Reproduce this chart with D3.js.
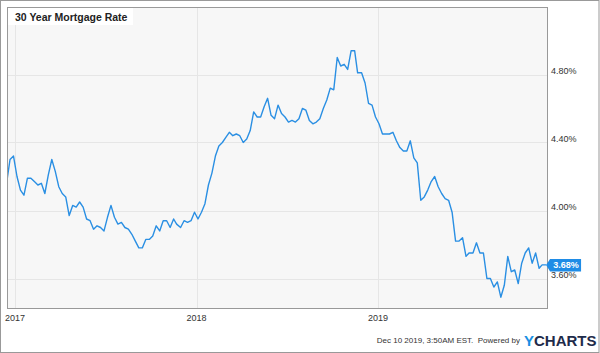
<!DOCTYPE html>
<html><head><meta charset="utf-8">
<script src="https://cdn.jsdelivr.net/npm/d3@7"></script>
<style>
html,body{margin:0;padding:0;background:#fff;}
svg{display:block;font-family:"Liberation Sans",Arial,sans-serif;}
</style></head>
<body>
<script>
const title = "30 Year Mortgage Rate";
const dates = ["2016-12-15","2016-12-22","2016-12-29","2017-01-05","2017-01-12","2017-01-19","2017-01-26","2017-02-02","2017-02-09","2017-02-16","2017-02-23","2017-03-02","2017-03-09","2017-03-16","2017-03-23","2017-03-30","2017-04-06","2017-04-13","2017-04-20","2017-04-27","2017-05-04","2017-05-11","2017-05-18","2017-05-25","2017-06-01","2017-06-08","2017-06-15","2017-06-22","2017-06-29","2017-07-06","2017-07-13","2017-07-20","2017-07-27","2017-08-03","2017-08-10","2017-08-17","2017-08-24","2017-08-31","2017-09-07","2017-09-14","2017-09-21","2017-09-28","2017-10-05","2017-10-12","2017-10-19","2017-10-26","2017-11-02","2017-11-09","2017-11-16","2017-11-22","2017-11-30","2017-12-07","2017-12-14","2017-12-21","2017-12-28","2018-01-04","2018-01-11","2018-01-18","2018-01-25","2018-02-01","2018-02-08","2018-02-15","2018-02-22","2018-03-01","2018-03-08","2018-03-15","2018-03-22","2018-03-29","2018-04-05","2018-04-12","2018-04-19","2018-04-26","2018-05-03","2018-05-10","2018-05-17","2018-05-24","2018-05-31","2018-06-07","2018-06-14","2018-06-21","2018-06-28","2018-07-05","2018-07-12","2018-07-19","2018-07-26","2018-08-02","2018-08-09","2018-08-16","2018-08-23","2018-08-30","2018-09-06","2018-09-13","2018-09-20","2018-09-27","2018-10-04","2018-10-11","2018-10-18","2018-10-25","2018-11-01","2018-11-08","2018-11-15","2018-11-21","2018-11-29","2018-12-06","2018-12-13","2018-12-20","2018-12-27","2019-01-03","2019-01-10","2019-01-17","2019-01-24","2019-01-31","2019-02-07","2019-02-14","2019-02-21","2019-02-28","2019-03-07","2019-03-14","2019-03-21","2019-03-28","2019-04-04","2019-04-11","2019-04-18","2019-04-25","2019-05-02","2019-05-09","2019-05-16","2019-05-23","2019-05-30","2019-06-06","2019-06-13","2019-06-20","2019-06-27","2019-07-03","2019-07-11","2019-07-18","2019-07-25","2019-08-01","2019-08-08","2019-08-15","2019-08-22","2019-08-29","2019-09-05","2019-09-12","2019-09-19","2019-09-26","2019-10-03","2019-10-10","2019-10-17","2019-10-24","2019-10-31","2019-11-07","2019-11-14","2019-11-21","2019-11-27","2019-12-05"];
const rates = [4.16,4.30,4.32,4.20,4.12,4.09,4.19,4.19,4.17,4.15,4.16,4.10,4.21,4.30,4.23,4.14,4.10,4.08,3.97,4.03,4.02,4.05,4.02,3.95,3.94,3.89,3.91,3.90,3.88,3.96,4.03,3.96,3.92,3.93,3.90,3.89,3.86,3.82,3.78,3.78,3.83,3.83,3.85,3.91,3.88,3.94,3.94,3.90,3.95,3.92,3.90,3.94,3.93,3.94,3.99,3.95,3.99,4.04,4.15,4.22,4.32,4.38,4.40,4.43,4.46,4.44,4.45,4.44,4.40,4.42,4.47,4.58,4.55,4.55,4.61,4.66,4.56,4.54,4.62,4.57,4.55,4.52,4.53,4.52,4.54,4.60,4.59,4.53,4.51,4.52,4.54,4.60,4.65,4.72,4.71,4.90,4.85,4.86,4.83,4.94,4.94,4.81,4.81,4.75,4.63,4.62,4.55,4.51,4.45,4.45,4.45,4.46,4.41,4.37,4.35,4.35,4.41,4.31,4.28,4.06,4.08,4.12,4.17,4.20,4.14,4.10,4.07,4.06,3.99,3.82,3.82,3.84,3.73,3.75,3.75,3.81,3.75,3.75,3.60,3.60,3.55,3.58,3.49,3.56,3.73,3.64,3.65,3.57,3.69,3.75,3.78,3.69,3.75,3.66,3.68,3.68];
const yTicks = [3.6, 4.0, 4.4, 4.8];
const xTickLabels = ["2017", "2018", "2019"];
const footerText = "Dec 10 2019, 3:50AM EST.  Powered by";

const W = 600, H = 353;
const plot = {x0: 7.5, y0: 7.5, x1: 547.5, y1: 308.5};
const parse = d3.timeParse("%Y-%m-%d");
const data = dates.map((d, i) => ({date: parse(d), v: rates[i]}));

const x = d3.scaleTime()
  .domain([parse("2017-01-01"), parse("2019-01-01")])
  .range([15, 378]);
const y = d3.scaleLinear().domain([3.6, 4.8]).range([278.5, 74.5]);

const svg = d3.select("body").append("svg").attr("width", W).attr("height", H);
svg.append("rect").attr("x", 0.5).attr("y", 0.5).attr("width", W - 1.5).attr("height", H - 1)
  .attr("fill", "#fff").attr("stroke", "#999");

svg.append("rect").attr("x", plot.x0).attr("y", plot.y0)
  .attr("width", plot.x1 - plot.x0).attr("height", plot.y1 - plot.y0)
  .attr("fill", "#f7f7f7");

svg.append("defs").append("clipPath").attr("id", "clip").append("rect")
  .attr("x", plot.x0).attr("y", plot.y0)
  .attr("width", plot.x1 - plot.x0).attr("height", plot.y1 - plot.y0);

// grid lines
const g = svg.append("g");
g.selectAll("line.h").data(yTicks).join("line")
  .attr("x1", plot.x0).attr("x2", plot.x1)
  .attr("y1", d => Math.round(y(d)) + 0.5).attr("y2", d => Math.round(y(d)) + 0.5)
  .attr("stroke", "#e6e6e6");
const xTickDates = xTickLabels.map(s => parse(s + "-01-01"));
g.selectAll("line.v").data(xTickDates).join("line")
  .attr("y1", plot.y0).attr("y2", plot.y1)
  .attr("x1", d => Math.round(x(d)) + 0.5).attr("x2", d => Math.round(x(d)) + 0.5)
  .attr("stroke", "#e6e6e6");

// line
const line = d3.line().x(d => x(d.date)).y(d => y(d.v));
svg.append("path").datum(data).attr("clip-path", "url(#clip)")
  .attr("d", line).attr("fill", "none").attr("stroke", "#2a8fe3")
  .attr("stroke-width", 1.4).attr("stroke-linejoin", "round");

// plot border
svg.append("rect").attr("x", plot.x0).attr("y", plot.y0)
  .attr("width", plot.x1 - plot.x0).attr("height", plot.y1 - plot.y0)
  .attr("fill", "none").attr("stroke", "#999");

// y labels
svg.selectAll("text.yl").data(yTicks).join("text")
  .attr("x", 551).attr("y", d => y(d) - 1)
  .attr("font-size", 9).attr("fill", "#333")
  .text(d => d.toFixed(2) + "%");

// x labels
svg.selectAll("text.xl").data(xTickDates).join("text")
  .attr("x", d => x(d)).attr("y", 321).attr("text-anchor", "middle")
  .attr("font-size", 9).attr("fill", "#333")
  .text((d, i) => xTickLabels[i]);

// title box
svg.append("rect").attr("x", 8).attr("y", 8).attr("width", 125).attr("height", 17).attr("fill", "#fff");
svg.append("text").attr("x", 15).attr("y", 20.5).attr("font-size", 10.5)
  .attr("font-weight", "bold").attr("fill", "#222").text(title);

// last value label
const last = data[data.length - 1];
const lx = x(last.date), ly = y(last.v);
const lbl = svg.append("g").attr("transform", `translate(${lx},${ly})`);
lbl.append("path")
  .attr("d", "M0,0 L4,-6 L35,-6 L35,6.5 L4,6.5 Z")
  .attr("fill", "#1f8ce6");
lbl.append("text").attr("x", 20).attr("y", 3.3).attr("text-anchor", "middle")
  .attr("font-size", 9).attr("font-weight", "bold").attr("fill", "#fff")
  .text(last.v.toFixed(2) + "%");

// footer
svg.append("text").attr("x", 520).attr("y", 343).attr("text-anchor", "end")
  .attr("font-size", 8).attr("fill", "#333").style("white-space", "pre")
  .text(footerText);
const logo = svg.append("text").attr("x", 524).attr("y", 346)
  .attr("font-size", 15).attr("font-weight", "bold");
logo.append("tspan").attr("fill", "#1a8fe3").text("Y");
logo.append("tspan").attr("fill", "#1e2b4a").text("CHARTS");
</script>
</body></html>
